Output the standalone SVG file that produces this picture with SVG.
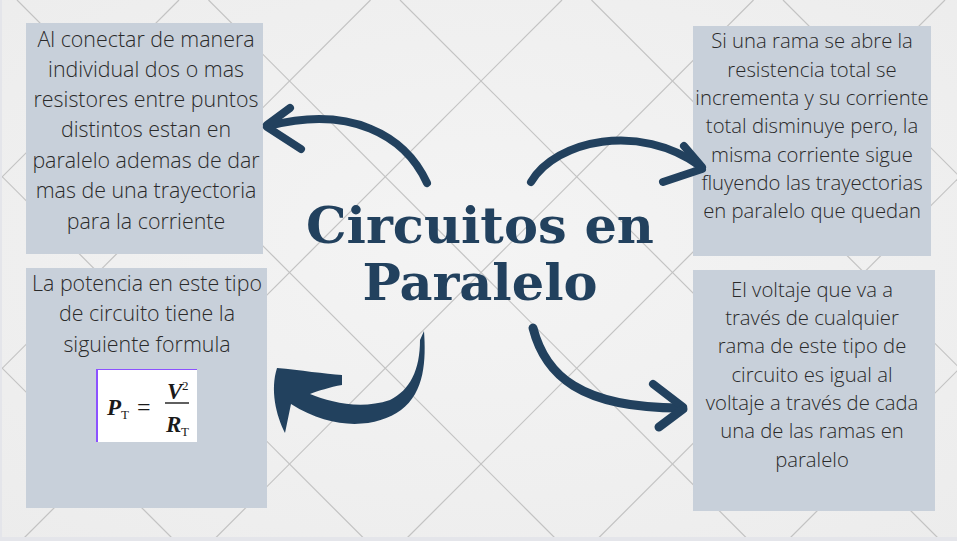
<svg xmlns="http://www.w3.org/2000/svg" width="957" height="541" viewBox="0 0 957 541">
  <defs>
    <radialGradient id="paper" cx="50%" cy="45%" r="75%">
      <stop offset="0" stop-color="#f4f4f4"/>
      <stop offset="1" stop-color="#ececec"/>
    </radialGradient>
    <style>
      .grid line { stroke: #c3c3c3; stroke-width: 1.2; }
      .box { fill: #c8d0da; }
      .txt { font-family: "Open Sans", "Noto Sans", sans-serif; font-weight: 300; fill: #2a2a2a; text-anchor: middle; }
      .t21 { font-size: 21.4px; }
      .t20 { font-size: 20.3px; }
      .title { font-family: "DejaVu Serif", "Liberation Serif", serif; font-weight: bold; font-size: 51px; fill: #22415e; text-anchor: middle; }
      .math { font-family: "Liberation Serif", "Times New Roman", serif; fill: #1a1a1a; }
      .arrow { stroke: #22415e; fill: none; stroke-linecap: round; stroke-linejoin: round; }
      .arrowfill { fill: #22415e; }
    </style>
  </defs>

  <!-- background -->
  <rect x="0" y="0" width="957" height="541" fill="url(#paper)"/>
  <g class="grid">
    <line x1="-366" y1="0" x2="175" y2="541"/>
    <line x1="-174.5" y1="0" x2="366.5" y2="541"/>
    <line x1="17" y1="0" x2="558" y2="541"/>
    <line x1="208.5" y1="0" x2="749.5" y2="541"/>
    <line x1="400" y1="0" x2="941" y2="541"/>
    <line x1="591.5" y1="0" x2="1132.5" y2="541"/>
    <line x1="783" y1="0" x2="1324" y2="541"/>
    <line x1="179" y1="0" x2="-362" y2="541"/>
    <line x1="370.5" y1="0" x2="-170.5" y2="541"/>
    <line x1="562" y1="0" x2="21" y2="541"/>
    <line x1="753.5" y1="0" x2="212.5" y2="541"/>
    <line x1="945" y1="0" x2="404" y2="541"/>
    <line x1="1136.5" y1="0" x2="595.5" y2="541"/>
    <line x1="1328" y1="0" x2="787" y2="541"/>
  </g>
  <rect x="0" y="537" width="957" height="4" fill="#e4e5ea"/>
  <rect x="0" y="0" width="2" height="541" fill="#e4e5ea"/>

  <!-- title -->
  <g id="title">
    <text class="title" x="480" y="243">Circuitos en</text>
    <text class="title" x="480" y="300">Paralelo</text>
  </g>

  <!-- top-left node -->
  <g id="node-conexion">
    <rect class="box" x="26" y="23" width="237" height="231"/>
    <text class="txt t21" x="146" y="47">Al conectar de manera</text>
    <text class="txt t21" x="146" y="77">individual dos o mas</text>
    <text class="txt t21" x="146" y="107">resistores entre puntos</text>
    <text class="txt t21" x="146" y="137">distintos estan en</text>
    <text class="txt t21" x="146" y="168">paralelo ademas de dar</text>
    <text class="txt t21" x="146" y="198">mas de una trayectoria</text>
    <text class="txt t21" x="146" y="229">para la corriente</text>
  </g>

  <!-- bottom-left node -->
  <g id="node-potencia">
    <rect class="box" x="26" y="268" width="241" height="240"/>
    <text class="txt t21" x="147" y="291">La potencia en este tipo</text>
    <text class="txt t21" x="147" y="321">de circuito tiene la</text>
    <text class="txt t21" x="147" y="352">siguiente formula</text>
    <g id="formula">
      <rect x="96" y="369" width="101" height="73" fill="#ffffff"/>
      <line x1="96" y1="369.5" x2="197" y2="369.5" stroke="#8c52ff" stroke-width="1"/>
      <line x1="97" y1="369" x2="97" y2="442" stroke="#8c52ff" stroke-width="2"/>
      <text class="math" x="107" y="415" font-size="23" font-style="italic" font-weight="bold">P</text>
      <text class="math" x="121" y="419" font-size="13">T</text>
      <text class="math" x="137" y="415" font-size="24">=</text>
      <line x1="165" y1="403" x2="189" y2="403" stroke="#1a1a1a" stroke-width="1.4"/>
      <text class="math" x="167" y="399" font-size="23" font-style="italic" font-weight="bold">V</text>
      <text class="math" x="182" y="390" font-size="13">2</text>
      <text class="math" x="166" y="432" font-size="23" font-style="italic" font-weight="bold">R</text>
      <text class="math" x="181" y="436" font-size="13">T</text>
    </g>
  </g>

  <!-- top-right node -->
  <g id="node-rama">
    <rect class="box" x="693" y="26" width="238" height="230"/>
    <text class="txt t20" x="812" y="48">Si una rama se abre la</text>
    <text class="txt t20" x="812" y="77">resistencia total se</text>
    <text class="txt t20" x="812" y="105">incrementa y su corriente</text>
    <text class="txt t20" x="812" y="133">total disminuye pero, la</text>
    <text class="txt t20" x="812" y="162">misma corriente sigue</text>
    <text class="txt t20" x="812" y="190">fluyendo las trayectorias</text>
    <text class="txt t20" x="812" y="218">en paralelo que quedan</text>
  </g>

  <!-- bottom-right node -->
  <g id="node-voltaje">
    <rect class="box" x="693" y="270" width="242" height="241"/>
    <text class="txt t20" x="812" y="297">El voltaje que va a</text>
    <text class="txt t20" x="812" y="325">través de cualquier</text>
    <text class="txt t20" x="812" y="353">rama de este tipo de</text>
    <text class="txt t20" x="812" y="382">circuito es igual al</text>
    <text class="txt t20" x="812" y="410">voltaje a través de cada</text>
    <text class="txt t20" x="812" y="438">una de las ramas en</text>
    <text class="txt t20" x="812" y="467">paralelo</text>
  </g>

  <!-- connectors -->
  <g id="connectors">
    <!-- to top-left -->
    <g id="arrow-tl">
      <path class="arrow" d="M427,183 C405,135 350,105 269,126" stroke-width="8"/>
      <path class="arrow" d="M267,125 L290,108" stroke-width="8"/>
      <path class="arrow" d="M267,127 L301,149" stroke-width="8"/>
    </g>
    <!-- to top-right -->
    <g id="arrow-tr">
      <path class="arrow" d="M531,182 C556,140 640,122 700,166" stroke-width="8"/>
      <path class="arrow" d="M702,167 L684,146" stroke-width="8"/>
      <path class="arrow" d="M702,169 L663,182" stroke-width="8"/>
    </g>
    <!-- to bottom-left -->
    <g id="arrow-bl">
      <path class="arrowfill" d="M424,331 C426,360 425,392 401,410 C378,427 335,432 291,404 L285,433 C276,415 270,390 277,368 C300,370 325,374 342,375 L342,385 C330,387 318,391 310,394 C330,402 360,410 390,400 C410,390 420,370 420,340 Z"/>
    </g>
    <!-- to bottom-right -->
    <g id="arrow-br">
      <path class="arrow" d="M533,328 C545,375 580,408 680,408" stroke-width="9"/>
      <path class="arrow" d="M683,407 L653,384" stroke-width="8"/>
      <path class="arrow" d="M683,409 L659,427" stroke-width="9"/>
    </g>
  </g>
</svg>
